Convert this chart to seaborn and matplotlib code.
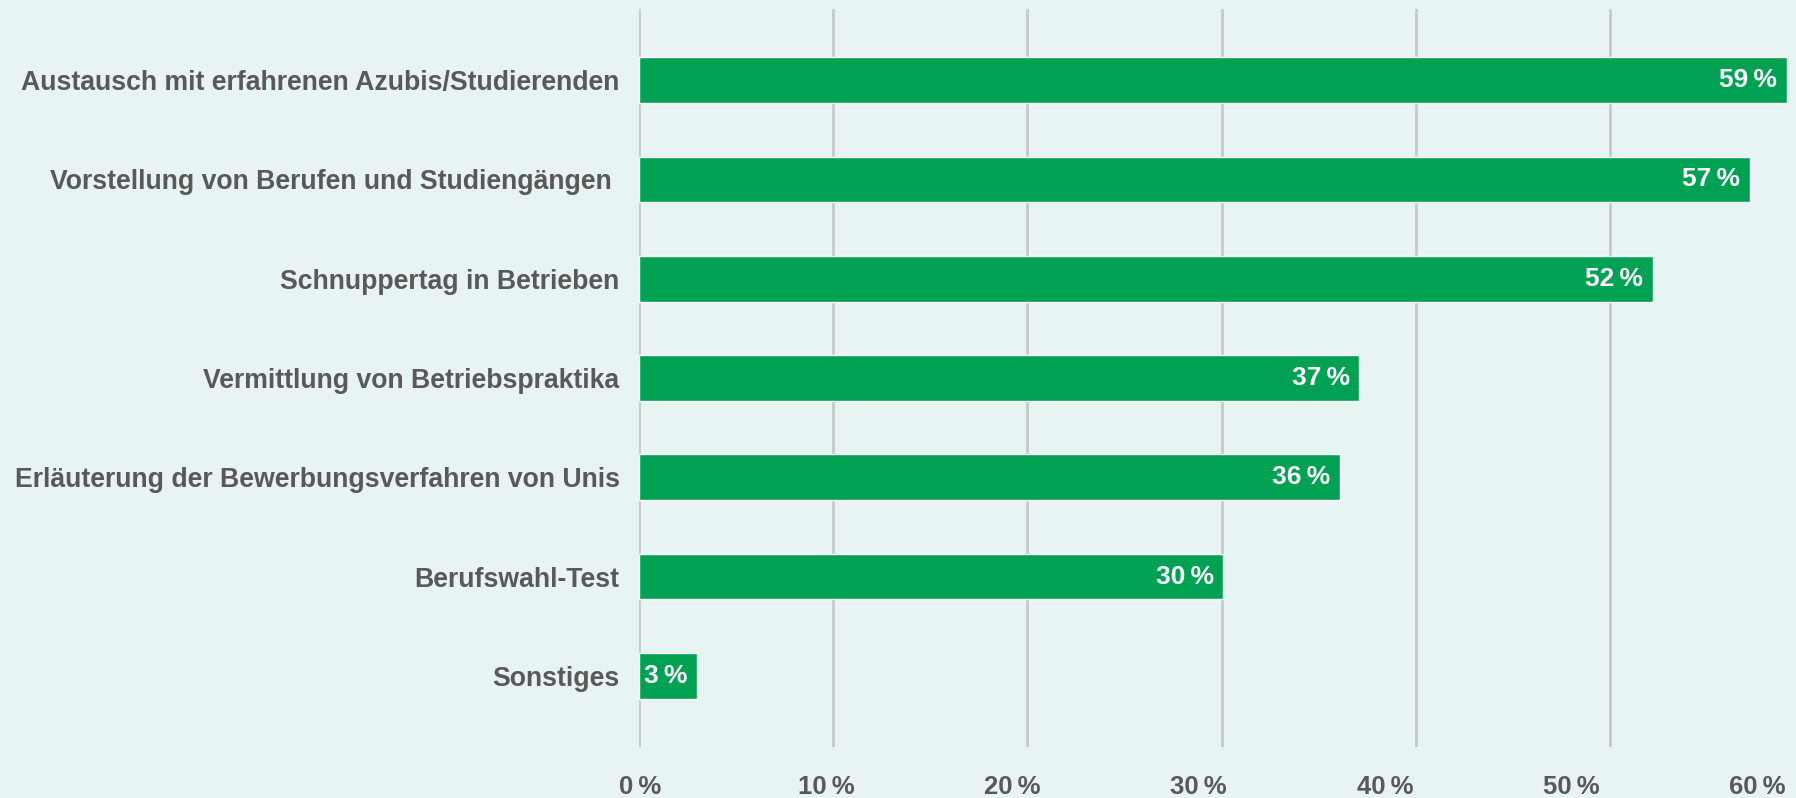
import matplotlib
matplotlib.use("Agg")
import matplotlib.pyplot as plt
import matplotlib.transforms as mtransforms
import seaborn as sns
import pandas as pd

categories = [
    "Austausch mit erfahrenen Azubis/Studierenden",
    "Vorstellung von Berufen und Studiengängen ",
    "Schnuppertag in Betrieben",
    "Vermittlung von Betriebspraktika",
    "Erläuterung der Bewerbungsverfahren von Unis",
    "Berufswahl-Test",
    "Sonstiges",
]
values = [59.1, 57.2, 52.2, 37.1, 36.1, 30.1, 3.0]
value_labels = ["59\u2009%", "57\u2009%", "52\u2009%", "37\u2009%", "36\u2009%", "30\u2009%", "3\u2009%"]
x_ticks = [0, 10, 20, 30, 40, 50, 60]
x_tick_labels = ["0\u2009%", "10\u2009%", "20\u2009%", "30\u2009%", "40\u2009%", "50\u2009%", "60\u2009%"]

bg = "#E8F4F4"
green = "#00A152"
grey = "#595959"

sns.set_style("white")
plt.rcParams["font.family"] = ["Liberation Sans", "DejaVu Sans"]

df = pd.DataFrame({"cat": categories, "val": values})

fig = plt.figure(figsize=(17.96, 7.98), dpi=100, facecolor=bg)
W, H = 1796, 798
ax = fig.add_axes([639 / W, 1 - 747 / H, (1804 - 639) / W, (747 - 9) / H])
ax.set_facecolor(bg)

sns.barplot(data=df, x="val", y="cat", color=green, saturation=1, width=0.46, ax=ax, zorder=3)

ax.set_xlim(0, 60)
ax.set_ylim(6.715, -0.715)
ax.set_xticks(x_ticks)
ax.set_xticklabels(x_tick_labels)
ax.grid(axis="x", color="#C8C8C8", linewidth=2, zorder=0)
ax.grid(axis="y", visible=False)
ax.set_xlabel("")
ax.set_ylabel("")
for s in ax.spines.values():
    s.set_visible(False)
ax.tick_params(axis="both", length=0)
ax.tick_params(axis="x", pad=20, labelsize=18.5, labelcolor=grey)
ax.tick_params(axis="y", pad=14, labelsize=19.2, labelcolor=grey)
for lab in ax.get_yticklabels():
    lab.set_fontweight("bold")
for i, lab in enumerate(ax.get_xticklabels()):
    lab.set_fontweight("bold")
    # labels in the original sit a bit left of their gridlines
    dx = (1 - 7.9 * i) / 100
    lab.set_transform(lab.get_transform() + mtransforms.ScaledTranslation(dx, 0, fig.dpi_scale_trans))

texts = ax.bar_label(ax.containers[0], labels=value_labels, padding=-7,
                     color="white", fontsize=19, fontweight="bold")
for t in texts:
    t.set_ha("right")

fig.savefig("out.png", dpi=100, facecolor=bg)
